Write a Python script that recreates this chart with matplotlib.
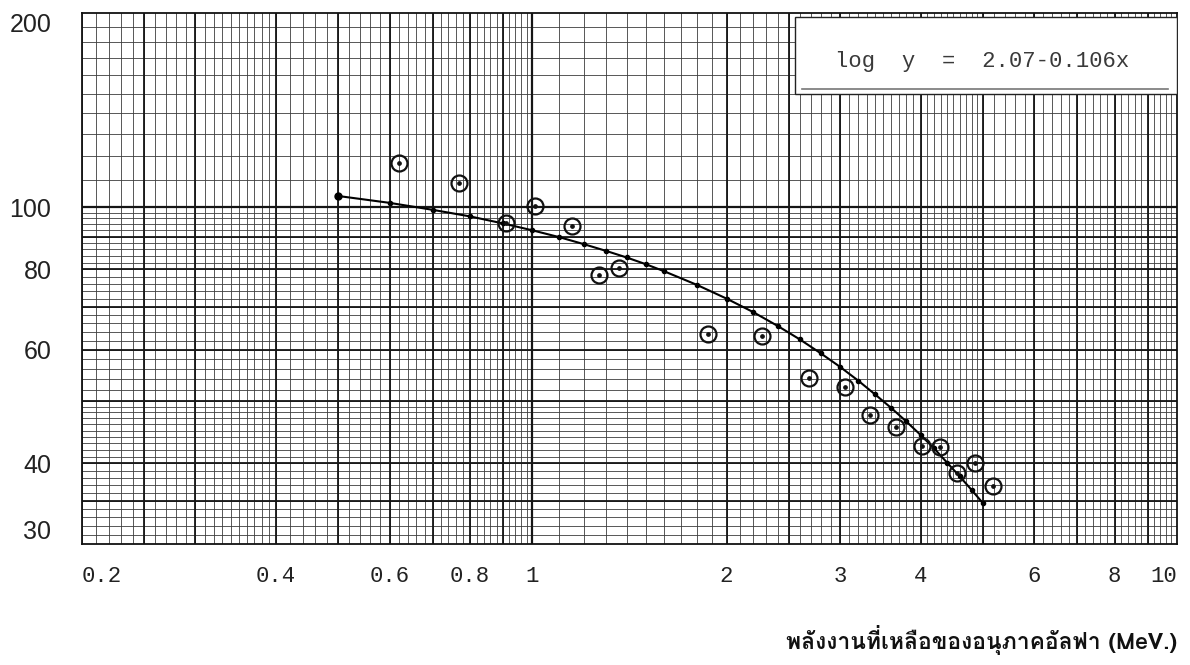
import matplotlib
matplotlib.use("Agg")
import matplotlib.pyplot as plt
import numpy as np
from matplotlib import font_manager as fm
from matplotlib.patches import Rectangle

# ---------------- data ----------------
energy_obs = [0.62, 0.77, 0.91, 1.01, 1.15, 1.27, 1.36, 1.87, 2.27, 2.69,
              3.05, 3.34, 3.67, 4.02, 4.29, 4.56, 4.86, 5.18]
value_obs = [117.0, 108.9, 94.4, 100.4, 93.4, 78.4, 80.4, 63.5, 63.1, 54.3,
             52.6, 47.6, 45.6, 42.6, 42.4, 38.7, 40.0, 36.9]

energy_fit = [0.5, 0.6, 0.7, 0.8, 0.9, 1.0, 1.1, 1.2, 1.3, 1.4, 1.5, 1.6,
              1.8, 2.0, 2.2, 2.4, 2.6, 2.8, 3.0, 3.2, 3.4, 3.6, 3.8, 4.0,
              4.2, 4.4, 4.6, 4.8, 5.0]
value_fit = [104.0, 101.5, 99.0, 96.7, 94.3, 92.0, 89.8, 87.6, 85.5, 83.5,
             81.5, 79.5, 75.7, 72.1, 68.7, 65.4, 62.3, 59.3, 56.5, 53.8,
             51.2, 48.8, 46.5, 44.3, 42.2, 40.1, 38.2, 36.4, 34.7]

x_ticks = [0.2, 0.4, 0.6, 0.8, 1, 2, 3, 4, 6, 8, 10]
x_ticklabels = ["0.2", "0.4", "0.6", "0.8", "1", "2", "3", "4", "6", "8", "10"]
y_ticks = [30, 40, 60, 80, 100, 200]
y_ticklabels = ["30", "40", "60", "80", "100", "200"]

equation_text = "log  y  =  2.07-0.106x"
x_title = "พลังงานที่เหลือของอนุภาคอัลฟา (MeV.)"

# ---------------- find a font with Thai glyphs ----------------
thai_family = None
try:
    from fontTools.ttLib import TTFont
    for f in sorted(fm.findSystemFonts()):
        try:
            tt = TTFont(f, fontNumber=0, lazy=True)
            cmap = tt.getBestCmap()
            if cmap and 0x0E1E in cmap and 0x0E31 in cmap and 0x0E2D in cmap:
                fm.fontManager.addfont(f)
                thai_family = fm.FontProperties(fname=f).get_name()
                break
        except Exception:
            pass
except Exception:
    pass
thai_fams = ([thai_family] if thai_family else []) + ["DejaVu Sans"]

# ---------------- figure ----------------
W, H = 1190, 665
fig = plt.figure(figsize=(W / 100, H / 100), dpi=100)
L, R, T, B = 82, 1177, 13, 544
ax = fig.add_axes([L / W, 1 - B / H, (R - L) / W, (B - T) / H])
ax.set_xscale("log")
ax.set_yscale("log")
ax.set_xlim(0.2, 10)
ax.set_ylim(30, 200)

# ---------------- graph-paper grid ----------------
thin_c, thick_c = "#3c3c3c", "#151515"
thin_lw, thick_lw = 0.6, 1.3

xthin = np.concatenate([np.arange(0.20, 0.40, 0.01), np.arange(0.40, 1.0, 0.02),
                        np.arange(1.0, 5.0, 0.1), np.arange(5.0, 10.0, 0.2)])
xthick = [0.25, 0.3, 0.4, 0.5, 0.6, 0.7, 0.8, 0.9, 1.0, 2, 2.5, 3, 4, 5, 6, 7, 8, 9]
ythin = np.concatenate([np.arange(30, 50, 1.0), np.arange(50, 100, 2.0),
                        np.arange(100, 200, 10.0)])
ythick = [35, 40, 50, 60, 70, 80, 90, 100]

for v in xthin:
    ax.axvline(v, color=thin_c, lw=thin_lw, zorder=1)
for v in ythin:
    ax.axhline(v, color=thin_c, lw=thin_lw, zorder=1)
for v in xthick:
    ax.axvline(v, color=thick_c, lw=thick_lw if v != 1.0 else 1.6, zorder=1.2)
for v in ythick:
    ax.axhline(v, color=thick_c, lw=thick_lw if v != 100 else 1.6, zorder=1.2)

for s in ax.spines.values():
    s.set_linewidth(1.3)
    s.set_color("#111111")

# ---------------- equation box ----------------
bx0 = (795 - L) / (R - L)
by0 = (B - 94) / (B - T)
by1 = (B - 17) / (B - T)
ax.add_patch(Rectangle((bx0, by0), 1 - bx0, by1 - by0, transform=ax.transAxes,
                       facecolor="white", edgecolor="#222222", lw=1.0, zorder=3))
ax.plot([(802 - L) / (R - L), (1168 - L) / (R - L)], [(B - 89) / (B - T)] * 2,
        transform=ax.transAxes, color="#777777", lw=1.2, zorder=3.5)
ax.text((982 - L) / (R - L), (B - 61) / (B - T), equation_text,
        transform=ax.transAxes, ha="center", va="center", fontsize=16,
        family="Liberation Mono", color="#3a3a3a", zorder=4)

# ---------------- fitted line with dots ----------------
ax.plot(energy_fit, value_fit, color="black", lw=1.5, zorder=5)
ax.plot(energy_fit[1:], value_fit[1:], "o", color="black", ms=3, zorder=5.5)
ax.plot(energy_fit[:1], value_fit[:1], "o", color="black", ms=5, zorder=5.5)

# ---------------- measured points (circled dots) ----------------
ax.plot(energy_obs, value_obs, "o", ms=11.5, mfc="none", mec="#111111",
        mew=1.6, zorder=6)
ax.plot(energy_obs, value_obs, "o", ms=2.4, color="#111111", zorder=6)

# ---------------- ticks ----------------
ax.set_xticks(x_ticks)
ax.set_xticklabels(x_ticklabels)
ax.set_yticks(y_ticks)
ax.set_yticklabels(y_ticklabels)
ax.xaxis.set_minor_locator(matplotlib.ticker.NullLocator())
ax.yaxis.set_minor_locator(matplotlib.ticker.NullLocator())
ax.tick_params(axis="x", length=0, pad=16, labelsize=16, labelcolor="#222222")
ax.tick_params(axis="y", length=0, pad=22, labelsize=18, labelcolor="#222222")
for lab in ax.get_xticklabels():
    lab.set_family("Liberation Mono")
for lab in ax.get_yticklabels():
    lab.set_family("Liberation Sans")
xl = ax.get_xticklabels()
xl[0].set_horizontalalignment("left")
xl[-1].set_horizontalalignment("right")
yl = ax.get_yticklabels()
yl[0].set_verticalalignment("bottom")
yl[-1].set_verticalalignment("top")

# ---------------- axis title ----------------
fig.text(R / W, 1 - 640 / H, x_title, ha="right", va="center",
         fontsize=16.5, fontweight="bold", family=thai_fams, color="#111111")

fig.savefig("out.png", dpi=100, facecolor="white")
